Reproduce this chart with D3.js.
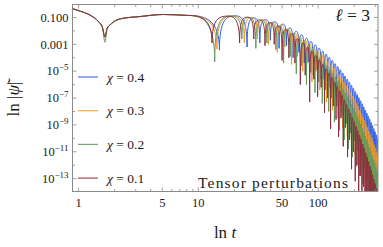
<!DOCTYPE html>
<html>
<head>
<meta charset="utf-8">
<script src="https://cdn.jsdelivr.net/npm/d3@7"></script>
<style>
  body { margin: 0; background: #fff; }
  svg { display: block; }
  text { font-family: "Liberation Serif", "DejaVu Serif", serif; fill: #1a1a1a; }
</style>
</head>
<body>
<svg id="chart"></svg>
<script>
// ---- data (values are log10 |psi|) ----
const seriesLabels = ["χ = 0.4", "χ = 0.3", "χ = 0.2", "χ = 0.1"];
const seriesColors = ["#2a5be8", "#ef9b22", "#5f9b5a", "#8c2c3c"];

const xMajorTicks = [1, 5, 10, 50, 100];
const xMinorTicks = [2, 3, 4, 6, 7, 8, 9, 20, 30, 40, 60, 70, 80, 90, 200, 300];
const yLabelTicks = [1e-1, 1e-3, 1e-5, 1e-7, 1e-9, 1e-11, 1e-13];
const yOtherTicks = [1e-2, 1e-4, 1e-6, 1e-8, 1e-10, 1e-12];

const earlyT     = [0.89, 1.04, 1.26, 1.48, 1.58, 1.66, 1.73, 1.85, 2.24, 3.28, 5.1, 8.1];
const earlyBlue  = [-0.34, -0.54, -0.85, -1.35, -1.72, -2.45, -1.83, -1.52, -1.1, -0.93, -0.78, -0.85];
const earlyOrange= [-0.34, -0.54, -0.85, -1.35, -1.72, -2.5, -1.83, -1.52, -1.1, -0.93, -0.78, -0.85];
const earlyGreen = [-0.34, -0.54, -0.85, -1.35, -1.72, -2.85, -1.83, -1.52, -1.1, -0.93, -0.78, -0.85];
const earlyRed   = [-0.34, -0.54, -0.85, -1.35, -1.72, -2.45, -1.83, -1.52, -1.1, -0.93, -0.78, -0.85];

// ringdown: alternating peak / dip points [t, log10|psi|]
const ringBlue = [[8.1,-0.85],[15.0,-3.43],[20.25,-0.88],[25.5,-3.2],[29.05,-1.03],[32.6,-2.9],[36.25,-1.17],[39.9,-2.7],[43.55,-1.33],[47.2,-3.3],[50.85,-1.5],[54.5,-3.1],[58.15,-1.78],[61.8,-4.0],[65.45,-2.04],[69.1,-3.6],[72.75,-2.3],[76.4,-4.4],[80.05,-2.55],[83.7,-4.3],[87.35,-2.79],[91.0,-5.3],[94.65,-3.04],[98.3,-4.9],[101.95,-3.28],[105.6,-5.6],[109.25,-3.51],[112.9,-6.4],[116.55,-3.74],[120.2,-5.8],[123.85,-3.97],[127.5,-6.9],[131.15,-4.2],[134.8,-6.3],[138.45,-4.44],[142.1,-7.6],[145.75,-4.67],[149.4,-6.9],[153.05,-4.9],[156.7,-8.0],[160.35,-5.13],[164.0,-7.4],[167.65,-5.36],[171.3,-8.7],[174.95,-5.59],[178.6,-7.9],[182.25,-5.82],[185.9,-9.2],[189.55,-6.05],[193.2,-8.4],[196.85,-6.28],[200.5,-9.8],[204.15,-6.51],[207.8,-9.0],[211.45,-6.74],[215.1,-10.4],[218.75,-6.97],[222.4,-9.5],[226.05,-7.2],[229.7,-11.0],[233.35,-7.43],[237.0,-10.0],[240.65,-7.66],[244.3,-11.6],[247.95,-7.9],[251.6,-10.5],[255.25,-8.13],[258.9,-12.2],[262.55,-8.36],[266.2,-11.0],[269.85,-8.59],[273.5,-12.8],[277.15,-8.82],[280.8,-11.6],[284.45,-9.05],[288.1,-13.4],[291.75,-9.28],[295.4,-12.2],[299.05,-9.51],[302.7,-14.0],[306.35,-9.74],[310.0,-12.8],[313.65,-9.97],[317.3,-14.5]];

const ringOrange = [[8.1,-0.85],[14.3,-3.36],[19.25,-0.89],[24.2,-2.9],[27.7,-1.0],[31.2,-2.6],[34.8,-1.17],[38.4,-3.0],[42.0,-1.35],[45.6,-3.6],[49.2,-1.55],[52.8,-3.2],[56.4,-1.85],[60.0,-4.5],[63.6,-2.14],[67.2,-3.9],[70.8,-2.43],[74.4,-5.0],[78.0,-2.7],[81.6,-4.4],[85.2,-2.97],[88.8,-5.8],[92.4,-3.24],[96.0,-5.0],[99.6,-3.49],[103.2,-6.4],[106.8,-3.74],[110.4,-5.6],[114.0,-4.0],[117.6,-7.3],[121.2,-4.26],[124.8,-6.2],[128.4,-4.52],[132.0,-7.9],[135.6,-4.78],[139.2,-6.8],[142.8,-5.04],[146.4,-8.5],[150.0,-5.3],[153.6,-7.5],[157.2,-5.56],[160.8,-9.2],[164.4,-5.82],[168.0,-8.1],[171.6,-6.08],[175.2,-9.9],[178.8,-6.34],[182.4,-8.8],[186.0,-6.6],[189.6,-10.5],[193.2,-6.86],[196.8,-9.4],[200.4,-7.11],[204.0,-11.2],[207.6,-7.37],[211.2,-10.0],[214.8,-7.63],[218.4,-11.8],[222.0,-7.89],[225.6,-10.6],[229.2,-8.15],[232.8,-12.5],[236.4,-8.41],[240.0,-11.3],[243.6,-8.67],[247.2,-13.1],[250.8,-8.93],[254.4,-11.9],[258.0,-9.19],[261.6,-13.8],[265.2,-9.45],[268.8,-12.5],[272.4,-9.71],[276.0,-14.3],[279.6,-9.97],[283.2,-13.1],[286.8,-10.23],[290.4,-14.8],[294.0,-10.48],[297.6,-13.7],[301.2,-10.74],[304.8,-15],[308.4,-11.0],[312.0,-14.3],[315.6,-11.26],[319.2,-15]];

const ringGreen = [[8.1,-0.85],[13.7,-4.3],[18.4,-0.9],[23.1,-2.6],[26.65,-1.0],[30.2,-3.3],[33.75,-1.2],[37.3,-2.9],[40.85,-1.38],[44.4,-3.4],[47.95,-1.63],[51.5,-4.4],[55.05,-1.9],[58.6,-3.9],[62.15,-2.2],[65.7,-5.2],[69.25,-2.52],[72.8,-4.6],[76.35,-2.82],[79.9,-6.0],[83.45,-3.11],[87.0,-5.1],[90.55,-3.4],[94.1,-6.6],[97.65,-3.7],[101.2,-5.8],[104.75,-3.99],[108.3,-7.4],[111.85,-4.29],[115.4,-6.4],[118.95,-4.58],[122.5,-8.0],[126.05,-4.87],[129.6,-7.0],[133.15,-5.16],[136.7,-8.8],[140.25,-5.45],[143.8,-7.6],[147.35,-5.74],[150.9,-9.4],[154.45,-6.03],[158.0,-8.3],[161.55,-6.32],[165.1,-10.1],[168.65,-6.61],[172.2,-8.9],[175.75,-6.91],[179.3,-10.8],[182.85,-7.2],[186.4,-9.6],[189.95,-7.49],[193.5,-11.4],[197.05,-7.78],[200.6,-10.2],[204.15,-8.07],[207.7,-12.1],[211.25,-8.36],[214.8,-10.9],[218.35,-8.65],[221.9,-12.8],[225.45,-8.94],[229.0,-11.6],[232.55,-9.23],[236.1,-13.4],[239.65,-9.53],[243.2,-12.3],[246.75,-9.82],[250.3,-14.1],[253.85,-10.11],[257.4,-12.9],[260.95,-10.4],[264.5,-14.7],[268.05,-10.69],[271.6,-13.6],[275.15,-10.98],[278.7,-15],[282.25,-11.27],[285.8,-14.2],[289.35,-11.56],[292.9,-15],[296.45,-11.86],[300.0,-15],[303.55,-12.15],[307.1,-15],[310.65,-12.44],[314.2,-15],[317.75,-12.73],[321.3,-15]];

const ringRed = [[8.1,-0.85],[13.0,-2.9],[17.5,-0.9],[22.1,-2.9],[25.5,-0.98],[29.0,-2.6],[32.5,-1.18],[36,-3.1],[39.5,-1.39],[43,-3.0],[46.5,-1.65],[50,-4.2],[53.5,-1.9],[57,-4.0],[60.5,-2.22],[64,-4.4],[67.5,-2.58],[71,-6.0],[74.5,-2.9],[78,-5.3],[81.5,-3.22],[85,-7.3],[88.5,-3.53],[92,-5.6],[95.5,-3.85],[99,-6.9],[102.5,-4.17],[106,-6.2],[109.5,-4.5],[113,-8.1],[116.5,-4.83],[120,-7.0],[123.5,-5.15],[127,-9.3],[130.5,-5.48],[134,-7.6],[137.5,-5.81],[141,-8.6],[144.5,-6.14],[148,-9.9],[151.5,-6.47],[155,-8.5],[158.5,-6.8],[162,-10.6],[165.5,-7.13],[169,-9.2],[172.5,-7.46],[176,-11.4],[179.5,-7.79],[183,-10.1],[186.5,-8.12],[190,-12.3],[193.5,-8.45],[197,-11.0],[200.5,-8.77],[204,-13.2],[207.5,-9.1],[211,-12.0],[214.5,-9.43],[218,-14.5],[221.5,-9.76],[225,-12.8],[228.5,-10.09],[232,-15],[235.5,-10.42],[239,-13.6],[242.5,-10.75],[246,-15],[249.5,-11.08],[253,-14.2],[256.5,-11.41],[260,-15],[263.5,-11.74],[267,-15],[270.5,-12.06],[274,-15],[277.5,-12.39],[281,-15],[284.5,-12.72],[288,-15],[291.5,-13.05],[295,-15],[298.5,-13.38],[302,-15],[305.5,-13.71],[309,-15],[312.5,-14.04],[316,-15]];

const earlyVals = [earlyBlue, earlyOrange, earlyGreen, earlyRed];
const ringVals  = [ringBlue, ringOrange, ringGreen, ringRed];

// ---- layout ----
const width = 383, height = 247;
const plot = { left: 72.5, right: 378, top: 4.5, bottom: 191.5 };

const svg = d3.select("svg#chart").attr("width", width).attr("height", height);

const x = d3.scaleLog().domain([0.89, 316]).range([plot.left, plot.right]);
const y = d3.scaleLog().domain([1.1e-14, 0.92]).range([plot.bottom, plot.top]);

// custom curve: flat rounded arches with steep dips (looks like log|sin|)
function ArchCurve(context) { this._context = context; }
ArchCurve.prototype = {
  areaStart() {}, areaEnd() {},
  lineStart() { this._x = this._y = NaN; this._point = 0; },
  lineEnd() {},
  point(px, py) {
    px = +px; py = +py;
    if (!this._point) { this._point = 1; this._context.moveTo(px, py); }
    else {
      const x0 = this._x, y0 = this._y, dx = px - x0;
      if (py > y0) this._context.bezierCurveTo(x0 + 0.55 * dx, y0, px, y0 + 0.1 * (py - y0), px, py);
      else this._context.bezierCurveTo(x0, py + 0.1 * (y0 - py), px - 0.55 * dx, py, px, py);
    }
    this._x = px; this._y = py;
  }
};
const curveArch = ctx => new ArchCurve(ctx);

svg.append("defs").append("clipPath").attr("id", "clip")
  .append("rect").attr("x", plot.left).attr("y", plot.top)
  .attr("width", plot.right - plot.left).attr("height", plot.bottom - plot.top);

const lines = svg.append("g").attr("clip-path", "url(#clip)");

const earlyLine = d3.line().x(d => x(d[0])).y(d => y(10 ** d[1])).curve(d3.curveMonotoneX);
const ringLine  = d3.line().x(d => x(d[0])).y(d => y(10 ** d[1])).curve(curveArch);

seriesColors.forEach((c, i) => {
  const early = earlyT.map((t, k) => [t, earlyVals[i][k]]);
  lines.append("path").attr("d", ringLine(ringVals[i]))
    .attr("fill", "none").attr("stroke", c).attr("stroke-width", 1);
  lines.append("path").attr("d", earlyLine(early))
    .attr("fill", "none").attr("stroke", c).attr("stroke-width", 1);
});

// ---- frame & ticks ----
const frameColor = "#8a8a8a";
svg.append("rect").attr("x", plot.left).attr("y", plot.top)
  .attr("width", plot.right - plot.left).attr("height", plot.bottom - plot.top)
  .attr("fill", "none").attr("stroke", frameColor).attr("stroke-width", 1);

const ticks = svg.append("g").attr("stroke", frameColor).attr("stroke-width", 0.8);
function xTick(v, len) {
  ticks.append("line").attr("x1", x(v)).attr("x2", x(v)).attr("y1", plot.bottom).attr("y2", plot.bottom - len);
  ticks.append("line").attr("x1", x(v)).attr("x2", x(v)).attr("y1", plot.top).attr("y2", plot.top + len);
}
function yTick(v, len) {
  ticks.append("line").attr("y1", y(v)).attr("y2", y(v)).attr("x1", plot.left).attr("x2", plot.left + len);
  ticks.append("line").attr("y1", y(v)).attr("y2", y(v)).attr("x1", plot.right).attr("x2", plot.right - len);
}
xMajorTicks.forEach(v => xTick(v, 4));
xMinorTicks.forEach(v => xTick(v, 2.5));
yLabelTicks.forEach(v => yTick(v, 4));
yOtherTicks.forEach(v => yTick(v, 2.5));

// x labels
svg.append("g").selectAll("text").data(xMajorTicks).join("text")
  .attr("x", d => x(d)).attr("y", 207).attr("text-anchor", "middle")
  .attr("font-size", 12.5).text(d => d);

// y labels
const yl = svg.append("g").selectAll("text").data(yLabelTicks).join("text")
  .attr("x", 68.5).attr("y", d => y(d) + 4.3).attr("text-anchor", "end").attr("font-size", 12.5);
yl.each(function(d) {
  const e = Math.round(Math.log10(d));
  const t = d3.select(this);
  if (e >= -3) t.text(d3.format(".3f")(d));
  else {
    t.append("tspan").text("10");
    t.append("tspan").attr("dy", -5).attr("font-size", 9).text("\u2212" + (-e));
  }
});

// axis titles
svg.append("text").attr("transform", "translate(19,99) rotate(-90)")
  .attr("text-anchor", "middle").attr("font-size", 17)
  .html('ln |<tspan font-style="italic">ψ̃</tspan>|');
svg.append("text").attr("x", 225).attr("y", 238).attr("text-anchor", "middle").attr("font-size", 17)
  .html('ln <tspan font-style="italic">t</tspan>');

svg.append("text").attr("x", 370).attr("y", 21).attr("text-anchor", "end").attr("font-size", 17.5)
  .html('<tspan font-style="italic">ℓ</tspan> = 3');
svg.append("text").attr("x", 198).attr("y", 188).attr("font-size", 15.5)
  .attr("textLength", 150).attr("lengthAdjust", "spacing").text("Tensor perturbations");

// legend
const legend = svg.append("g");
seriesLabels.forEach((s, i) => {
  const ly = 77 + i * 33.7;
  legend.append("line").attr("x1", 78).attr("x2", 98).attr("y1", ly).attr("y2", ly)
    .attr("stroke", seriesColors[i]).attr("stroke-width", 1.2).attr("opacity", 0.85);
  legend.append("text").attr("x", 107).attr("y", ly + 4.5).attr("font-size", 13.5)
    .html('<tspan font-style="italic">χ</tspan>' + s.slice(1));
});
</script>
</body>
</html>
